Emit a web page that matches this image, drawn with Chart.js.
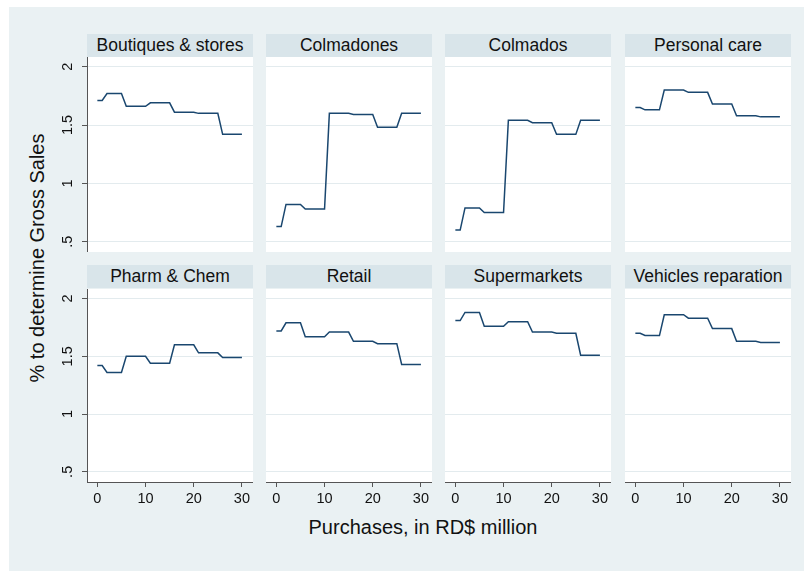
<!DOCTYPE html>
<html>
<head>
<meta charset="utf-8">
<title>% to determine Gross Sales by sector</title>
<script src="https://cdn.jsdelivr.net/npm/chart.js"></script>
<style>
  body {
    margin: 0;
    background: #ffffff;
    font-family: "Liberation Sans", Arial, sans-serif;
  }
  #frame {
    position: absolute;
    left: 9px;
    top: 7px;
    width: 795px;
    height: 564px;
    background: #eaf1f3;
  }
  .strip {
    position: absolute;
    background: #d9e5ea;
    color: #111;
    font-size: 17.5px;
    text-align: center;
    line-height: 23px;
    height: 23px;
    white-space: nowrap;
  }
  .plot {
    position: absolute;
  }
  .plotbg {
    position: absolute;
    background: #ffffff;
  }
  #ytitle {
    position: absolute;
    left: 37px;
    top: 258px;
    font-size: 20px;
    color: #111;
    white-space: nowrap;
    transform: translate(-50%, -50%) rotate(-90deg);
  }
  #xtitle {
    position: absolute;
    left: 423px;
    top: 527px;
    font-size: 20px;
    color: #111;
    white-space: nowrap;
    transform: translate(-50%, -50%);
  }
</style>
</head>
<body>

<div id="frame"></div>
<div id="ytitle">% to determine Gross Sales</div>
<div id="xtitle">Purchases, in RD$ million</div>

<script>
// ─────────────────────────────────────────────
// DATA
// ─────────────────────────────────────────────
const panelNames = [
  "Boutiques & stores", "Colmadones", "Colmados", "Personal care",
  "Pharm & Chem", "Retail", "Supermarkets", "Vehicles reparation"
];

const purchases = [0, 1, 2, 5, 6, 10, 11, 15, 16, 20, 21, 25, 26, 30];

const boutiques    = [1.71, 1.71, 1.77, 1.77, 1.66, 1.66, 1.69, 1.69, 1.61, 1.61, 1.60, 1.60, 1.42, 1.42];
const colmadones   = [0.63, 0.63, 0.82, 0.82, 0.78, 0.78, 1.60, 1.60, 1.59, 1.59, 1.48, 1.48, 1.60, 1.60];
const colmados     = [0.60, 0.60, 0.79, 0.79, 0.75, 0.75, 1.54, 1.54, 1.52, 1.52, 1.42, 1.42, 1.54, 1.54];
const personalCare = [1.65, 1.65, 1.63, 1.63, 1.80, 1.80, 1.78, 1.78, 1.68, 1.68, 1.58, 1.58, 1.57, 1.57];
const pharmChem    = [1.42, 1.42, 1.36, 1.36, 1.50, 1.50, 1.44, 1.44, 1.60, 1.60, 1.53, 1.53, 1.49, 1.49];
const retail       = [1.72, 1.72, 1.79, 1.79, 1.67, 1.67, 1.71, 1.71, 1.63, 1.63, 1.61, 1.61, 1.43, 1.43];
const supermarkets = [1.81, 1.81, 1.88, 1.88, 1.76, 1.76, 1.80, 1.80, 1.71, 1.71, 1.70, 1.70, 1.51, 1.51];
const vehicles     = [1.70, 1.70, 1.68, 1.68, 1.86, 1.86, 1.83, 1.83, 1.74, 1.74, 1.63, 1.63, 1.62, 1.62];

const panelSeries = [boutiques, colmadones, colmados, personalCare,
                     pharmChem, retail, supermarkets, vehicles];

const xTicks = [0, 10, 20, 30];
const yTicks = [0.5, 1, 1.5, 2];
const yTickLabels = [".5", "1", "1.5", "2"];

// ─────────────────────────────────────────────
// LAYOUT
// ─────────────────────────────────────────────
const colLeft = [87, 266, 445, 625];
const plotW = 166;
const stripTop = [34, 265];
const plotTop = [57, 289];
const plotBottom = [252, 482];
const yAxisW = 40;
const xAxisH = 32;

const LINE = "#1a476f";
const AXIS = "#555555";
const GRID = "#e3ebee";
const FONT = "'Liberation Sans', Arial, sans-serif";

Chart.defaults.font.family = FONT;
Chart.defaults.color = "#111";

// no label overflow padding, so every panel's plot area is the same
function noPadding(s) {
  s.paddingTop = 0;
  s.paddingBottom = 0;
  s.paddingLeft = 0;
  s.paddingRight = 0;
}

function makePanel(i) {
  const col = i % 4;
  const row = Math.floor(i / 4);
  const isLeft = col === 0;
  const isBottom = row === 1;

  // strip title
  const strip = document.createElement("div");
  strip.className = "strip";
  strip.style.left = colLeft[col] + "px";
  strip.style.top = stripTop[row] + "px";
  strip.style.width = plotW + "px";
  strip.textContent = panelNames[i];
  document.body.appendChild(strip);

  // white plot background
  const bg = document.createElement("div");
  bg.className = "plotbg";
  bg.style.left = colLeft[col] + "px";
  bg.style.top = plotTop[row] + "px";
  bg.style.width = plotW + "px";
  bg.style.height = (plotBottom[row] - plotTop[row]) + "px";
  document.body.appendChild(bg);

  // canvas
  const w = plotW + (isLeft ? yAxisW : 0);
  const h = plotBottom[row] - plotTop[row] + (isBottom ? xAxisH : 0);
  const canvas = document.createElement("canvas");
  canvas.className = "plot";
  canvas.width = w;
  canvas.height = h;
  canvas.style.left = (colLeft[col] - (isLeft ? yAxisW : 0)) + "px";
  canvas.style.top = plotTop[row] + "px";
  canvas.style.width = w + "px";
  canvas.style.height = h + "px";
  document.body.appendChild(canvas);

  const points = purchases.map((x, k) => ({ x: x, y: panelSeries[i][k] }));

  new Chart(canvas.getContext("2d"), {
    type: "line",
    data: {
      datasets: [{
        data: points,
        borderColor: LINE,
        borderWidth: 1.5,
        pointRadius: 0,
        tension: 0,
        fill: false
      }]
    },
    options: {
      responsive: false,
      animation: false,
      layout: { padding: 0 },
      plugins: { legend: { display: false }, tooltip: { enabled: false } },
      scales: {
        x: {
          type: "linear",
          min: -2.15,
          max: 32.3,
          display: isBottom,
          afterBuildTicks: s => { s.ticks = xTicks.map(v => ({ value: v })); },
          afterFit: s => { s.height = isBottom ? xAxisH : 0; noPadding(s); },
          grid: {
            drawOnChartArea: false,
            drawTicks: true,
            tickLength: 5,
            color: AXIS
          },
          border: { display: true, color: AXIS, width: 1 },
          ticks: {
            font: { size: 14.5 },
            color: "#111",
            padding: 3,
            maxRotation: 0,
            callback: v => String(v)
          }
        },
        y: {
          type: "linear",
          min: 0.412,
          max: 2.083,
          afterBuildTicks: s => { s.ticks = yTicks.map(v => ({ value: v })); },
          afterFit: s => { s.width = isLeft ? yAxisW : 0; noPadding(s); },
          grid: {
            color: GRID,
            lineWidth: 1,
            drawTicks: isLeft,
            tickLength: 5,
            tickColor: AXIS
          },
          border: { display: isLeft, color: AXIS, width: 1 },
          ticks: {
            display: isLeft,
            font: { size: 14.5 },
            color: "#111",
            padding: 4,
            minRotation: 90,
            maxRotation: 90,
            crossAlign: "center",
            callback: v => yTickLabels[yTicks.indexOf(v)]
          }
        }
      }
    }
  });
}

for (let i = 0; i < panelNames.length; i++) {
  makePanel(i);
}
</script>

</body>
</html>
